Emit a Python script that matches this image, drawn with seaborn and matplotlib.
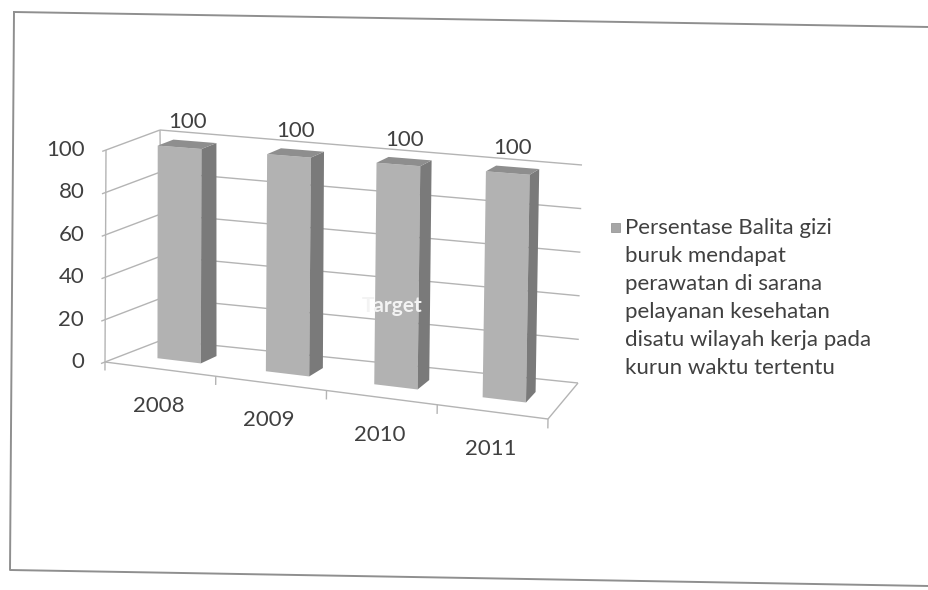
import numpy as np
import matplotlib
matplotlib.use("Agg")
import matplotlib.pyplot as plt
from matplotlib import transforms as mtransforms
from matplotlib.patches import Rectangle
from matplotlib.lines import Line2D
import seaborn as sns

# ---- data -------------------------------------------------------------
years = ["2008", "2009", "2010", "2011"]
values = [100, 100, 100, 100]
y_ticks = [0, 20, 40, 60, 80, 100]
legend_lines = [
    "Persentase Balita gizi",
    "buruk mendapat",
    "perawatan di sarana",
    "pelayanan kesehatan",
    "disatu wilayah kerja pada",
    "kurun waktu tertentu",
]

# ---- figure -----------------------------------------------------------
W, H = 929, 590
sns.set_theme(style="white")
plt.rcParams["font.family"] = ["Lato", "DejaVu Sans"]

TEXT = "#404040"
GRID = "#b4b4b4"
FRONT = "#b2b2b2"
SIDE = "#7a7a7a"
TOP = "#8e8e8e"

# 3-D box of the plot: x = category position, y = value, z = depth (0 front, 1 back)
X_MIN, X_MAX = -0.5, len(years) - 0.5
Y_TOP = 100.0
# pixel position (image coords) of the eight box corners, keyed by (x, y, z) index
CORNERS = {
    (0, 0, 0): (105, 362), (1, 0, 0): (548, 419),
    (0, 1, 0): (106, 150), (1, 1, 0): (552, 184),
    (0, 0, 1): (162, 340), (1, 0, 1): (578, 383),
    (0, 1, 1): (160, 130), (1, 1, 1): (582, 165),
}


def project(x, y, z):
    u = (np.asarray(x, float) - X_MIN) / (X_MAX - X_MIN)
    v = np.asarray(y, float) / Y_TOP
    w = np.asarray(z, float)
    px = np.zeros(np.broadcast(u, v, w).shape)
    py = np.zeros_like(px)
    for (i, j, k), (cx, cy) in CORNERS.items():
        wt = (u if i else 1 - u) * (v if j else 1 - v) * (w if k else 1 - w)
        px = px + wt * cx
        py = py + wt * cy
    return px, py


class Proj(mtransforms.Transform):
    """Maps 2-D coordinates lying in one plane of the 3-D box to display pixels."""
    input_dims = 2
    output_dims = 2
    is_separable = False
    has_inverse = False

    def __init__(self, plane, fixed):
        super().__init__()
        self.plane = plane
        self.fixed = fixed

    def transform_non_affine(self, values):
        values = np.asarray(values, float).reshape(-1, 2)
        a, b = values[:, 0], values[:, 1]
        f = np.full_like(a, self.fixed)
        if self.plane == "xy":
            x, y, z = a, b, f
        elif self.plane == "zy":
            z, y, x = a, b, f
        else:  # "xz"
            x, z, y = a, b, f
        px, py = project(x, y, z)
        return np.column_stack([px, H - py])


def shifted(t, dx, dy):
    return t + mtransforms.Affine2D().translate(dx, dy)


fig = plt.figure(figsize=(W / 100, H / 100), dpi=100)
fig.patch.set_facecolor("white")
ax = fig.add_axes([0, 0, 1, 1])
ax.set_axis_off()

line_kw = dict(color=GRID, lw=1.0, clip_on=False, zorder=1, solid_capstyle="butt")

# walls: back wall and left side wall with gridlines
back = Proj("xy", 1.0)
left = Proj("zy", X_MIN)
front = Proj("xy", 0.0)
for v in y_ticks:
    ax.plot([X_MIN, X_MAX], [v, v], transform=back, **line_kw)
    ax.plot([-0.07, 1.0], [v, v], transform=left, **line_kw)
ax.plot([X_MIN, X_MIN], [0, Y_TOP], transform=front, **line_kw)
ax.plot([X_MIN, X_MIN], [0, Y_TOP], transform=back, **line_kw)
# floor outline and category tick marks
ax.plot([X_MIN, X_MAX], [0, 0], transform=front, **line_kw)
ax.plot([0.0, 1.0], [0, 0], transform=Proj("zy", X_MAX), **line_kw)
for b in np.arange(X_MIN, X_MAX + 0.01, 1.0):
    ax.plot([b, b], [0, -4], transform=front, **line_kw)

# bars
Z_FRONT, DEPTH = 0.35, 0.30
sns.barplot(x=years, y=values, ax=ax, color=FRONT, saturation=1,
            width=0.4, edgecolor="none", linewidth=0)
bars = list(ax.patches)
for bar in bars:
    x0, w, h = bar.get_x(), bar.get_width(), bar.get_height()
    bar.set_transform(Proj("xy", Z_FRONT))
    bar.set_clip_on(False)
    bar.set_zorder(5)
    ax.add_patch(Rectangle((Z_FRONT, 0), DEPTH, h, transform=Proj("zy", x0 + w),
                           facecolor=SIDE, edgecolor="none", zorder=5, clip_on=False))
    ax.add_patch(Rectangle((x0, Z_FRONT), w, DEPTH, transform=Proj("xz", h),
                           facecolor=TOP, edgecolor="none", zorder=5, clip_on=False))

FS = 16
# value labels
mid = Proj("xy", Z_FRONT + DEPTH / 2)
for i, v in enumerate(values):
    ax.text(i, v, f"{v:g}", transform=shifted(mid, 0, 22), ha="center", va="center",
            fontsize=FS, color=TEXT, zorder=6, clip_on=False)

# value axis labels
for v in y_ticks:
    ax.text(X_MIN, v, f"{v:g}", transform=shifted(front, -21, 0),
            ha="right", va="center", fontsize=FS, color=TEXT, clip_on=False)

# category labels
for i, yr in enumerate(years):
    ax.text(i, 0, yr, transform=shifted(front, -2, -37), ha="center", va="center",
            fontsize=FS, color=TEXT, clip_on=False)

# faint white "Target" caption; only the part over the 2010 bar shows up
fig.text(362 / W, 1 - 306 / H, "Target", ha="left", va="center", fontsize=15,
         fontweight="bold", color="#f3f3f3", zorder=7)

# legend
fig.add_artist(Rectangle((611 / W, 1 - 232 / H), 9 / W, 9 / H, transform=fig.transFigure,
                         facecolor="#a6a6a6", edgecolor="#8c8c8c", lw=0.5))
for i, line in enumerate(legend_lines):
    fig.text(625 / W, 1 - (228 + 28 * i) / H, line, ha="left", va="center",
             fontsize=FS, color=TEXT)

# outer chart frame
frame_x = [14, 929, 929, 10, 14]
frame_y = [12, 27, 586, 570, 12]
fig.add_artist(Line2D([x / W for x in frame_x], [1 - y / H for y in frame_y],
                      transform=fig.transFigure, color="#8f8f8f", lw=1.4))

fig.savefig("out.png", dpi=100, facecolor="white")
